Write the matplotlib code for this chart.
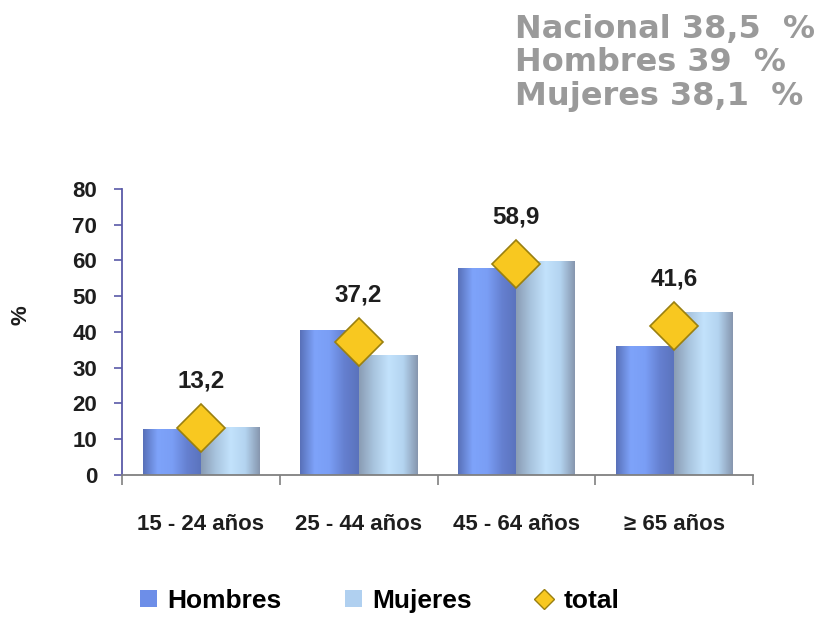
import numpy as np
import matplotlib
matplotlib.use("Agg")
import matplotlib.pyplot as plt
from matplotlib.colors import LinearSegmentedColormap
from matplotlib.patches import Patch
from matplotlib.lines import Line2D

categories = ["15 - 24 años", "25 - 44 años", "45 - 64 años", "≥ 65 años"]
hombres = [12.8, 40.6, 57.9, 36.1]
mujeres = [13.4, 33.6, 59.9, 45.6]
total = [13.2, 37.2, 58.9, 41.6]
total_labels = ["13,2", "37,2", "58,9", "41,6"]
yticks = [0, 10, 20, 30, 40, 50, 60, 70, 80]
header = "Nacional 38,5  %\nHombres 39  %\nMujeres 38,1  %"

NARROW = ["Liberation Sans", "DejaVu Sans"]
TXT = "#1e1e1e"

fig = plt.figure(figsize=(8.21, 6.18), dpi=100)
ax = fig.add_axes([0.1486, 0.2314, 0.7686, 0.4628])

x = np.arange(len(categories))
w = 0.37
bh = ax.bar(x - w / 2, hombres, w, color="#6d8ee8", zorder=2, linewidth=0)
bm = ax.bar(x + w / 2, mujeres, w, color="#b0d0f0", zorder=2, linewidth=0)

cm_h = LinearSegmentedColormap.from_list("h", ["#5870b8", "#7ea3fa", "#7a9ef5", "#6580d0", "#5a72bc"])
cm_m = LinearSegmentedColormap.from_list("m", ["#8a9cb4", "#a8c4de", "#c2e2fc", "#b4d4f0", "#8696ae"])
grad = np.linspace(0, 1, 256).reshape(1, -1)
for bars, cmap in ((bh, cm_h), (bm, cm_m)):
    for p in bars:
        x0, y0 = p.get_xy()
        im = ax.imshow(grad, cmap=cmap, extent=[x0, x0 + p.get_width(), y0, y0 + p.get_height()],
                       aspect="auto", zorder=2.5, interpolation="bilinear")
        im.set_clip_path(p)

ax.plot(x, total, linestyle="none", marker="D", markersize=24, markerfacecolor="#f8c820",
        markeredgecolor="#9a8010", markeredgewidth=1.2, zorder=4)
for xi, v, lab in zip(x, total, total_labels):
    ax.annotate(lab, (xi, v), xytext=(0, 34), textcoords="offset points", ha="center", va="center",
                fontsize=17.5, fontweight="bold", family=NARROW, color=TXT)

ax.set_xlim(-0.5, len(categories) - 0.5)
ax.set_ylim(0, 80)
ax.set_yticks(yticks)
ax.set_yticklabels([str(t) for t in yticks], fontsize=16, fontweight="bold", family=NARROW, color=TXT)
ax.set_xticks(x)
ax.set_xticklabels(categories, fontsize=16, fontweight="bold", family=NARROW, color=TXT)
ax.tick_params(axis="x", length=0, pad=28)
ax.set_xticks(np.arange(-0.5, len(categories)), minor=True)
ax.tick_params(axis="x", which="minor", length=7, color="#808080", direction="out", width=1.2)
ax.tick_params(axis="y", length=6, color="#5a5aa8", direction="out", width=1.2, pad=12)
for s in ("top", "right"):
    ax.spines[s].set_visible(False)
ax.spines["left"].set_color("#5a5aa8")
ax.spines["left"].set_linewidth(1.3)
ax.spines["bottom"].set_color("#808080")
ax.spines["bottom"].set_linewidth(1.3)
ax.set_aspect("auto")

fig.text(0.025, 0.49, "%", rotation=90, fontsize=16, fontweight="bold", family=NARROW,
         ha="center", va="center", color=TXT)

fig.text(0.627, 0.978, header, ha="left", va="top", fontsize=23, fontweight="bold",
         family="DejaVu Sans", color="#9a9a9a", linespacing=1.12)

handles = [Patch(facecolor="#6d8ee8", edgecolor="none"),
           Patch(facecolor="#b0d0f0", edgecolor="none"),
           Line2D([], [], linestyle="none", marker="D", markersize=10, markerfacecolor="#f8c820",
                  markeredgecolor="#9a8010")]
fig.legend(handles, ["Hombres", "Mujeres", "total"], loc="center left", bbox_to_anchor=(0.17, 0.028),
           ncol=3, frameon=False, columnspacing=2.4, handlelength=0.65, handleheight=0.65,
           handletextpad=0.4, borderpad=0, borderaxespad=0,
           prop={"family": NARROW, "weight": "bold", "size": 19})

fig.savefig("out.png", dpi=100)
